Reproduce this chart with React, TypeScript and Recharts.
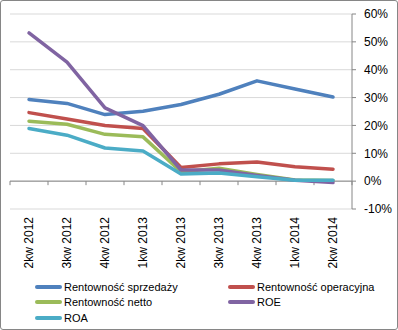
import React from "react";
import {
  LineChart,
  Line,
  XAxis,
  YAxis,
  CartesianGrid,
  ReferenceLine,
} from "recharts";

const categories = [
  "2kw 2012",
  "3kw 2012",
  "4kw 2012",
  "1kw 2013",
  "2kw 2013",
  "3kw 2013",
  "4kw 2013",
  "1kw 2014",
  "2kw 2014",
];
const rentSprzedazy = [29.3, 27.9, 23.9, 25.1, 27.5, 31.2, 36.0, 33.1, 30.2];
const rentOperacyjna = [24.6, 22.3, 20.0, 18.9, 4.9, 6.2, 6.9, 5.2, 4.3];
const rentNetto = [21.5, 20.4, 16.8, 15.9, 3.4, 4.6, 2.4, 0.4, 0.2];
const roe = [53.2, 42.7, 26.3, 19.9, 4.0, 4.0, 2.0, 0.3, -0.5];
const roa = [18.9, 16.5, 11.9, 10.8, 2.6, 2.9, 1.6, 0.3, 0.3];
const yTicks = [-10, 0, 10, 20, 30, 40, 50, 60];

const series = [
  { key: "sprzedazy", name: "Rentowność sprzedaży", color: "#4F81BD", values: rentSprzedazy },
  { key: "operacyjna", name: "Rentowność operacyjna", color: "#C0504D", values: rentOperacyjna },
  { key: "netto", name: "Rentowność netto", color: "#9BBB59", values: rentNetto },
  { key: "roe", name: "ROE", color: "#8064A2", values: roe },
  { key: "roa", name: "ROA", color: "#4BACC6", values: roa },
];

const data = categories.map((name, i) => {
  const row: Record<string, any> = { name };
  series.forEach((s) => (row[s.key] = s.values[i]));
  return row;
});

const FONT = "'Liberation Sans', Arial, sans-serif";
const AXIS = "#868686";

// category labels sit at the bottom of the plot, rotated
const CategoryTick = (props: any) => {
  const { x, y, payload } = props;
  return (
    <text
      x={x}
      y={y}
      dy="0.36em"
      transform={`rotate(-90, ${x}, ${y})`}
      textAnchor="end"
      fontSize={12}
      fontFamily={FONT}
      fill="#000"
    >
      {payload.value}
    </text>
  );
};

// zero line with the category tick marks hanging below it
const ZeroAxis = (props: any) => {
  const { x1, x2, y1 } = props;
  const step = (x2 - x1) / categories.length;
  return (
    <g>
      <line x1={x1} x2={x2} y1={y1} y2={y1} stroke={AXIS} strokeWidth={1} />
      {Array.from({ length: categories.length + 1 }).map((_, i) => (
        <line
          key={i}
          x1={x1 + i * step}
          x2={x1 + i * step}
          y1={y1}
          y2={y1 + 4}
          stroke={AXIS}
          strokeWidth={1}
        />
      ))}
    </g>
  );
};

export default function App() {
  return (
    <div style={{ position: "absolute", left: 0, top: 0, width: 398, height: 330, background: "#fff" }}>
      <LineChart
        width={398}
        height={330}
        data={data}
        margin={{ top: 14, right: 0, left: 10, bottom: 61 }}
      >
        <CartesianGrid vertical={false} stroke="#d9d9d9" />
        <XAxis
          dataKey="name"
          scale="band"
          axisLine={false}
          tickLine={false}
          tickSize={0}
          tickMargin={8}
          height={60}
          interval={0}
          tick={<CategoryTick />}
        />
        <YAxis
          orientation="right"
          domain={[-10, 60]}
          ticks={yTicks}
          interval={0}
          width={46}
          stroke={AXIS}
          tickSize={4}
          tickMargin={8}
          tickFormatter={(v) => `${v}%`}
          tick={{ fontSize: 12, fontFamily: FONT, fill: "#000", textAnchor: "start" }}
        />
        <ReferenceLine y={0} shape={<ZeroAxis />} />
        {series.map((s) => (
          <Line
            key={s.key}
            type="linear"
            dataKey={s.key}
            name={s.name}
            stroke={s.color}
            strokeWidth={3.5}
            strokeLinejoin="round"
            strokeLinecap="round"
            dot={false}
            activeDot={false}
            isAnimationActive={false}
          />
        ))}
      </LineChart>
      <div
        style={{
          position: "absolute",
          left: 35,
          top: 279,
          display: "grid",
          gridTemplateColumns: "193px 150px",
          rowGap: 0,
          fontFamily: FONT,
          fontSize: 11,
          color: "#000",
        }}
      >
        {series.map((s) => (
          <div key={s.key} style={{ display: "flex", alignItems: "center", height: 15.5 }}>
            <span
              style={{
                display: "inline-block",
                width: 27,
                height: 4,
                background: s.color,
                borderRadius: 2,
                marginRight: 2,
              }}
            />
            <span>{s.name}</span>
          </div>
        ))}
      </div>
      <div
        style={{
          position: "absolute",
          left: 0,
          top: 0,
          width: 398,
          height: 330,
          boxSizing: "border-box",
          border: `1px solid ${AXIS}`,
          borderRadius: 3,
          pointerEvents: "none",
        }}
      />
    </div>
  );
}
